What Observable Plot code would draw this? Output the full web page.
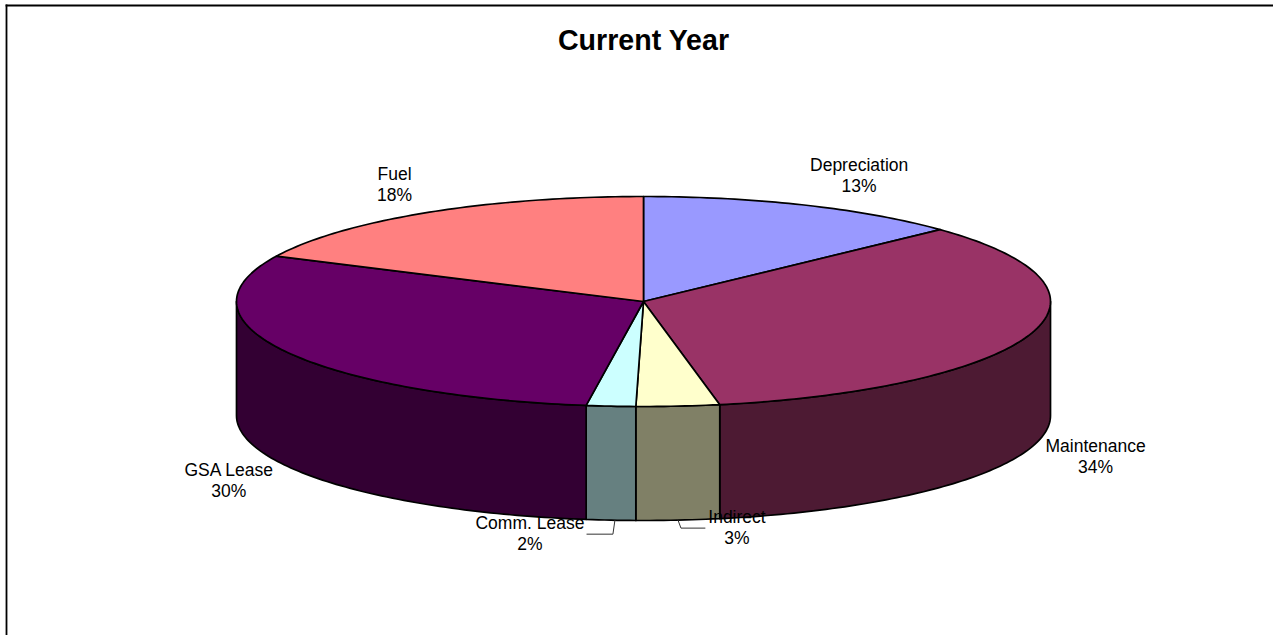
<!DOCTYPE html>
<html>
<head>
<meta charset="utf-8">
<script src="https://cdn.jsdelivr.net/npm/d3@7"></script>
<script src="https://cdn.jsdelivr.net/npm/@observablehq/plot@0.6"></script>
<style>
html,body{margin:0;padding:0;background:#fff}
svg{display:block}
</style>
</head>
<body>
<div id="chart"></div>
<script>
const chartTitle = "Current Year";
const categories = ["Depreciation", "Maintenance", "Indirect", "Comm. Lease", "GSA Lease", "Fuel"];
const shares = [13, 34, 3.3, 1.95, 29.85, 17.9];
const topColors = ["#9999ff", "#993366", "#ffffcc", "#ccffff", "#660066", "#ff8080"];
const wallColors = ["#4d4d80", "#4d1a33", "#808066", "#668080", "#330033", "#804040"];

// layout (pixels), independent of the data
const W = 1273, H = 635, mTop = 5, mLeft = 6;
const cx = 643, cy = 301, rx = 407, ry = 105, depthPx = 114;
const depth = depthPx / ry;
const labelOffsets = [[54, -30], [65, 8], [59, 6.5], [-81, 12.5], [-56, 15], [-32, -29]];
const leaderOffsets = {
  "Indirect": [[0, 0], [3, 8], [27, 8]],
  "Comm. Lease": [[4, 0], [2, 14], [-24, 14]]
};

const total = d3.sum(shares);
const rad = d => d * Math.PI / 180;
const px = a => Math.sin(rad(a));
const py = a => -Math.cos(rad(a));

let acc = 0;
const slices = categories.map((name, i) => {
  const a0 = acc / total * 360;
  acc += shares[i];
  const a1 = acc / total * 360;
  return {name, share: shares[i], a0, a1, mid: (a0 + a1) / 2, top: topColors[i], wall: wallColors[i], i};
});

const arc = (a0, a1) => {
  const n = Math.max(2, Math.ceil(Math.abs(a1 - a0)));
  return d3.range(n + 1).map(k => a0 + (a1 - a0) * k / n);
};

const marks = [];

// side walls of the front half
for (const s of slices) {
  const a0 = Math.max(s.a0, 90), a1 = Math.min(s.a1, 270);
  if (a1 <= a0) continue;
  const pts = [
    ...arc(a0, a1).map(a => ({x: px(a), y: py(a)})),
    ...arc(a1, a0).map(a => ({x: px(a), y: py(a) + depth}))
  ];
  marks.push(Plot.line(pts, {x: "x", y: "y", fill: s.wall, stroke: "#000", strokeWidth: 1.7, curve: "linear-closed"}));
}

// top faces
for (const s of slices) {
  const pts = [{x: 0, y: 0}, ...arc(s.a0, s.a1).map(a => ({x: px(a), y: py(a)}))];
  marks.push(Plot.line(pts, {x: "x", y: "y", fill: s.top, stroke: "#000", strokeWidth: 1.7, curve: "linear-closed"}));
}

// labels and leader lines
for (const s of slices) {
  const front = s.mid > 90 && s.mid < 270;
  const ax = px(s.mid), ay = py(s.mid) + (front ? depth : 0);
  const lead = leaderOffsets[s.name];
  if (lead) {
    marks.push(Plot.line(lead.map(([dx, dy]) => ({x: ax + dx / rx, y: ay + dy / ry})),
      {x: "x", y: "y", stroke: "#333", strokeWidth: 1, curve: "linear"}));
  }
  const [dx, dy] = labelOffsets[s.i];
  marks.push(Plot.text([s], {
    x: () => ax, y: () => ay, dx, dy,
    text: d => `${d.name}\n${Math.round(d.share)}%`,
    fontSize: 17.5, lineHeight: 1.2, fill: "#000", textAnchor: "middle"
  }));
}

marks.push(Plot.text([chartTitle], {
  x: () => 0, frameAnchor: "top", dy: 24, text: d => d,
  fontSize: 28.6, fontWeight: "bold", fill: "#000", textAnchor: "middle"
}));

marks.push(Plot.frame({anchor: "top", stroke: "#000", strokeWidth: 1.8}));
marks.push(Plot.frame({anchor: "left", stroke: "#000", strokeWidth: 1.8}));

const chart = Plot.plot({
  width: W, height: H,
  marginTop: mTop, marginLeft: mLeft, marginRight: 0, marginBottom: 0,
  style: {fontFamily: "'Liberation Sans', Arial, sans-serif", background: "#fff", overflow: "visible"},
  x: {type: "linear", domain: [(mLeft - cx) / rx, (W - cx) / rx], range: [mLeft, W], axis: null},
  y: {type: "linear", domain: [(mTop - cy) / ry, (H - cy) / ry], range: [mTop, H], axis: null},
  marks
});
document.getElementById("chart").appendChild(chart);
</script>
</body>
</html>
